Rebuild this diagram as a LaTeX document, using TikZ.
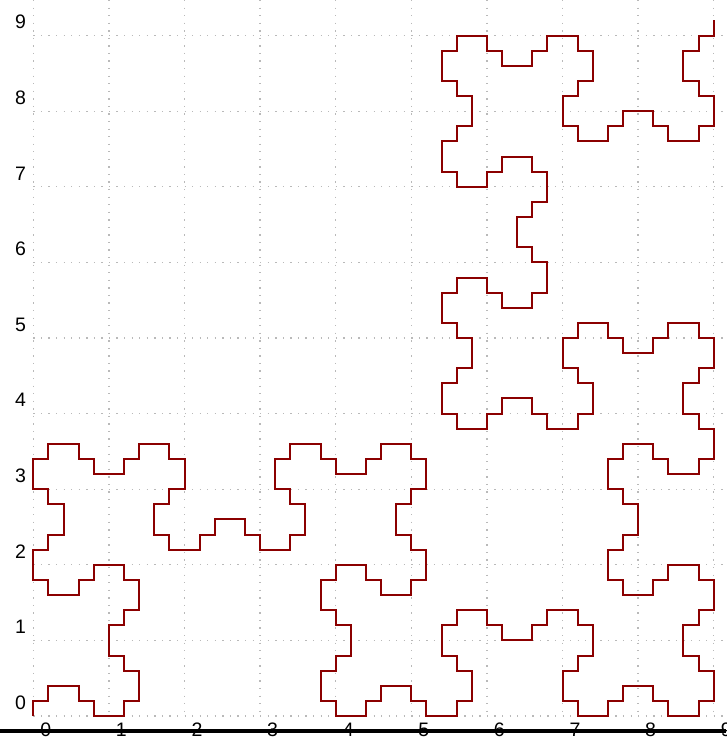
\documentclass[tikz,border=0pt]{standalone}
\usepackage{fontspec}
\setmainfont{Liberation Sans}
\begin{document}
\begin{tikzpicture}[x=1pt,y=-1pt,
  gridline/.style={draw={rgb,255:red,185;green,185;blue,185},line width=1.3pt,dash pattern=on 1.3pt off 6.26pt},
  curve/.style={draw={rgb,255:red,139;green,0;blue,0},line width=2pt,line join=miter},
  axisline/.style={draw=black,line width=4pt},
  ticklabel/.style={font=\fontsize{19.5}{20}\selectfont,inner sep=0pt,text=black}]
\useasboundingbox (0,0) rectangle (726,738);
% grid
\foreach \k in {0,...,9}{
  \draw[gridline] ({33.3+75.6*\k},0) -- ({33.3+75.6*\k},716);
  \draw[gridline] (33.3,{716-75.6*\k}) -- (726,{716-75.6*\k});
}
% curve
\begin{scope}[shift={(33.3pt,-716pt)},x=15.12pt,y=15.12pt]
\draw[curve] (0,0)--(0,1)--(1,1)--(1,2)--(3,2)--(3,1)--(4,1)--(4,0)--(6,0)--(6,1)--(7,1)--(7,3)--(6,3)--(6,4)--(5,4)--(5,6)--(6,6)--(6,7)--(7,7)--(7,9)--(6,9)--(6,10)--(4,10)--(4,9)--(3,9)--(3,8)--(1,8)--(1,9)--(0,9)--(0,11)--(1,11)--(1,12)--(2,12)--(2,14)--(1,14)--(1,15)--(0,15)--(0,17)--(1,17)--(1,18)--(3,18)--(3,17)--(4,17)--(4,16)--(6,16)--(6,17)--(7,17)--(7,18)--(9,18)--(9,17)--(10,17)--(10,15)--(9,15)--(9,14)--(8,14)--(8,12)--(9,12)--(9,11)--(11,11)--(11,12)--(12,12)--(12,13)--(14,13)--(14,12)--(15,12)--(15,11)--(17,11)--(17,12)--(18,12)--(18,14)--(17,14)--(17,15)--(16,15)--(16,17)--(17,17)--(17,18)--(19,18)--(19,17)--(20,17)--(20,16)--(22,16)--(22,17)--(23,17)--(23,18)--(25,18)--(25,17)--(26,17)--(26,15)--(25,15)--(25,14)--(24,14)--(24,12)--(25,12)--(25,11)--(26,11)--(26,9)--(25,9)--(25,8)--(23,8)--(23,9)--(22,9)--(22,10)--(20,10)--(20,9)--(19,9)--(19,7)--(20,7)--(20,6)--(21,6)--(21,4)--(20,4)--(20,3)--(19,3)--(19,1)--(20,1)--(20,0)--(22,0)--(22,1)--(23,1)--(23,2)--(25,2)--(25,1)--(26,1)--(26,0)--(28,0)--(28,1)--(29,1)--(29,3)--(28,3)--(28,4)--(27,4)--(27,6)--(28,6)--(28,7)--(30,7)--(30,6)--(31,6)--(31,5)--(33,5)--(33,6)--(34,6)--(34,7)--(36,7)--(36,6)--(37,6)--(37,4)--(36,4)--(36,3)--(35,3)--(35,1)--(36,1)--(36,0)--(38,0)--(38,1)--(39,1)--(39,2)--(41,2)--(41,1)--(42,1)--(42,0)--(44,0)--(44,1)--(45,1)--(45,3)--(44,3)--(44,4)--(43,4)--(43,6)--(44,6)--(44,7)--(45,7)--(45,9)--(44,9)--(44,10)--(42,10)--(42,9)--(41,9)--(41,8)--(39,8)--(39,9)--(38,9)--(38,11)--(39,11)--(39,12)--(40,12)--(40,14)--(39,14)--(39,15)--(38,15)--(38,17)--(39,17)--(39,18)--(41,18)--(41,17)--(42,17)--(42,16)--(44,16)--(44,17)--(45,17)--(45,19)--(44,19)--(44,20)--(43,20)--(43,22)--(44,22)--(44,23)--(45,23)--(45,25)--(44,25)--(44,26)--(42,26)--(42,25)--(41,25)--(41,24)--(39,24)--(39,25)--(38,25)--(38,26)--(36,26)--(36,25)--(35,25)--(35,23)--(36,23)--(36,22)--(37,22)--(37,20)--(36,20)--(36,19)--(34,19)--(34,20)--(33,20)--(33,21)--(31,21)--(31,20)--(30,20)--(30,19)--(28,19)--(28,20)--(27,20)--(27,22)--(28,22)--(28,23)--(29,23)--(29,25)--(28,25)--(28,26)--(27,26)--(27,28)--(28,28)--(28,29)--(30,29)--(30,28)--(31,28)--(31,27)--(33,27)--(33,28)--(34,28)--(34,30)--(33,30)--(33,31)--(32,31)--(32,33)--(33,33)--(33,34)--(34,34)--(34,36)--(33,36)--(33,37)--(31,37)--(31,36)--(30,36)--(30,35)--(28,35)--(28,36)--(27,36)--(27,38)--(28,38)--(28,39)--(29,39)--(29,41)--(28,41)--(28,42)--(27,42)--(27,44)--(28,44)--(28,45)--(30,45)--(30,44)--(31,44)--(31,43)--(33,43)--(33,44)--(34,44)--(34,45)--(36,45)--(36,44)--(37,44)--(37,42)--(36,42)--(36,41)--(35,41)--(35,39)--(36,39)--(36,38)--(38,38)--(38,39)--(39,39)--(39,40)--(41,40)--(41,39)--(42,39)--(42,38)--(44,38)--(44,39)--(45,39)--(45,41)--(44,41)--(44,42)--(43,42)--(43,44)--(44,44)--(44,45)--(45,45)--(45,46);
\end{scope}
% axis line
\draw[axisline] (0,731.3) -- (726,731.3);
% labels
\foreach \k in {0,...,9}{
  \node[ticklabel] (xl\k) at ({45.8+75.6*\k},730) {\k};
  \node[ticklabel] (yl\k) at (20.5,{702.5-75.6*\k}) {\k};
}
\end{tikzpicture}
\end{document}
